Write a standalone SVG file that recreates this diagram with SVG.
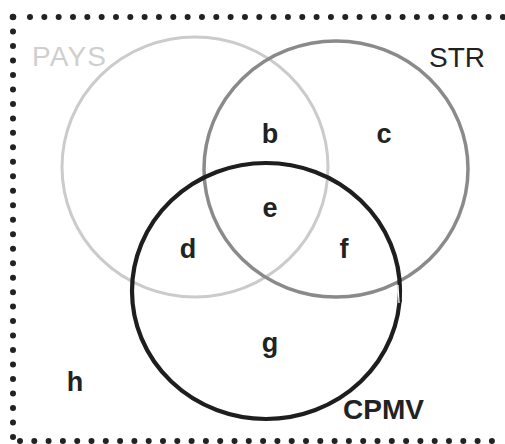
<svg xmlns="http://www.w3.org/2000/svg" width="505" height="444" viewBox="0 0 505 444">
  <style>
    .frame { stroke: #222; stroke-width: 6; stroke-linecap: round; fill: none; }
    .set { fill: none; }
    .lbl { font-family: "Liberation Sans", Arial, sans-serif; font-size: 28px; }
    .zone { font-family: "Liberation Sans", Arial, sans-serif; font-size: 27px; font-weight: bold; fill: #222; text-anchor: middle; }
  </style>
  <rect width="505" height="444" fill="#fff"/>

  <!-- dotted universe frame -->
  <g id="frame">
    <circle cx="13" cy="17" r="3.3" fill="#222"/>
    <line class="frame" x1="30" y1="17" x2="505" y2="17" stroke-dasharray="0 14.33"/>
    <line class="frame" x1="13" y1="31.5" x2="13" y2="437" stroke-dasharray="0 14.48"/>
    <line class="frame" x1="20" y1="441" x2="505" y2="441" stroke-dasharray="0 14.3"/>
  </g>

  <!-- sets -->
  <g id="pays">
    <ellipse class="set" cx="195" cy="167" rx="133" ry="130" stroke="#cbcbcb" stroke-width="3"/>
    <text class="lbl" x="32" y="66" fill="#cfcfcf" textLength="74">PAYS</text>
  </g>
  <g id="str">
    <ellipse class="set" cx="336" cy="169" rx="132" ry="128" stroke="#8a8a8a" stroke-width="3.5"/>
    <text class="lbl" x="429" y="67" fill="#222">STR</text>
  </g>
  <g id="cpmv">
    <ellipse class="set" cx="266" cy="291" rx="134" ry="128" stroke="#1e1e1e" stroke-width="4.2"/>
    <!-- small splice notch where the outline meets STR -->
    <line x1="398" y1="285" x2="399" y2="303" stroke="#fff" stroke-width="1.2"/>
    <line x1="400.5" y1="284" x2="401" y2="302" stroke="#1e1e1e" stroke-width="1.6"/>
    <text class="lbl" x="343" y="419" fill="#222" font-weight="bold">CPMV</text>
  </g>

  <!-- region labels -->
  <g id="regions">
    <text class="zone" x="270" y="143">b</text>
    <text class="zone" x="384" y="143">c</text>
    <text class="zone" x="188" y="258">d</text>
    <text class="zone" x="270" y="217">e</text>
    <text class="zone" x="344" y="258">f</text>
    <text class="zone" x="270" y="352">g</text>
    <text class="zone" x="75" y="391">h</text>
  </g>
</svg>
